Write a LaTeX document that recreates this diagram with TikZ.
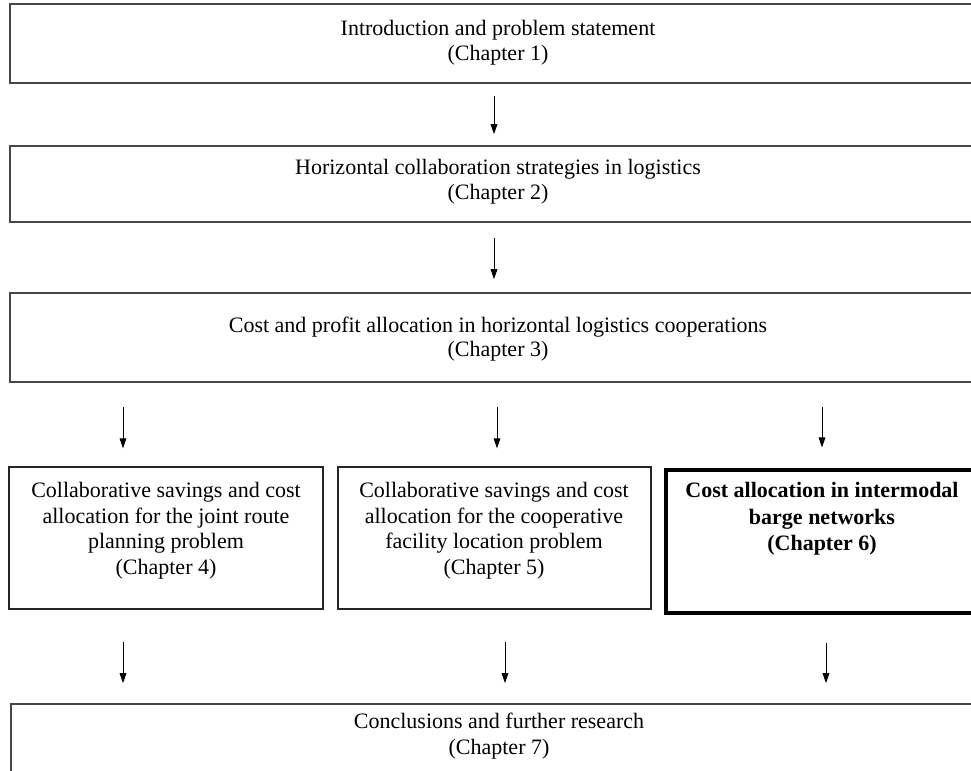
\documentclass[tikz,border=0pt]{standalone}
\usepackage{fontspec}
\setmainfont{Liberation Serif}
\usetikzlibrary{arrows.meta,fit}
\tikzset{
  boxa/.style={draw=black!72, line width=1.2pt, inner sep=0pt},
  boxb/.style={draw=black!85, line width=0.95pt, inner sep=0pt},
  boxc/.style={draw=black, line width=2.3pt, inner sep=0pt},
  txt/.style={align=center, inner sep=0pt, font=\fontsize{16.5pt}{18.6pt}\selectfont},
  txtb/.style={align=center, inner sep=0pt, font=\fontsize{16.5pt}{19.2pt}\selectfont},
  txtc/.style={align=center, inner sep=0pt, font=\fontsize{16.5pt}{20pt}\selectfont\bfseries},
  txtd/.style={align=center, inner sep=0pt, font=\fontsize{16.5pt}{20pt}\selectfont},
  arr/.style={draw=black, line width=0.75pt, -{Triangle[length=7.5pt,width=5pt]}}
}
\begin{document}
\begin{tikzpicture}[x=0.75pt, y=-0.75pt]
\useasboundingbox (0,0) rectangle (971,771);
% boxes
\node[boxa, fit={(10,4) (995,83)}] (b1) {};
\node[boxa, fit={(10,146) (995,222)}] (b2) {};
\node[boxa, fit={(10,293) (995,382)}] (b3) {};
\node[boxb, fit={(9,467) (323,609)}] (b4) {};
\node[boxb, fit={(338,467) (651,609)}] (b5) {};
\node[boxc, fit={(666,470) (995,613)}] (b6) {};
\node[boxa, fit={(11,704) (995,820)}] (b7) {};
% texts
\node[txt] (t1) at (498,43) {Introduction and problem statement\\(Chapter 1)};
\node[txt] (t2) at (498,182) {Horizontal collaboration strategies in logistics\\(Chapter 2)};
\node[txt] (t3) at (498,339) {Cost and profit allocation in horizontal logistics cooperations\\(Chapter 3)};
\node[txtb, anchor=north] (t4) at (166,482) {Collaborative savings and cost\\allocation for the joint route\\planning problem\\(Chapter 4)};
\node[txtb, anchor=north] (t5) at (494,482) {Collaborative savings and cost\\allocation for the cooperative\\facility location problem\\(Chapter 5)};
\node[txtc, anchor=north] (t6) at (822,482) {Cost allocation in intermodal\\barge networks\\(Chapter 6)};
\node[txtd] (t7) at (499,736) {Conclusions and further research\\(Chapter 7)};
% arrow columns
\coordinate (c1) at (494,0);
\coordinate (cl) at (123,0);
\coordinate (cm) at (497,0);
\coordinate (cr) at (822,0);
\coordinate (dl) at (123,0);
\coordinate (dm) at (505,0);
\coordinate (dr) at (826,0);
% arrows
\draw[arr, shorten <=9pt, shorten >=8.25pt] (b1.south -| c1) -- (b2.north -| c1);
\draw[arr, shorten <=11.25pt, shorten >=9.75pt] (b2.south -| c1) -- (b3.north -| c1);
\draw[arr, shorten <=18pt, shorten >=13.5pt] (b3.south -| cl) -- (b4.north -| cl);
\draw[arr, shorten <=18pt, shorten >=13.5pt] (b3.south -| cm) -- (b5.north -| cm);
\draw[arr, shorten <=18pt, shorten >=15.75pt] (b3.south -| cr) -- (b6.north -| cr);
\draw[arr, shorten <=24pt, shorten >=15pt] (b4.south -| dl) -- (b7.north -| dl);
\draw[arr, shorten <=24pt, shorten >=15pt] (b5.south -| dm) -- (b7.north -| dm);
\draw[arr, shorten <=21pt, shorten >=15pt] (b6.south -| dr) -- (b7.north -| dr);
\end{tikzpicture}
\end{document}
